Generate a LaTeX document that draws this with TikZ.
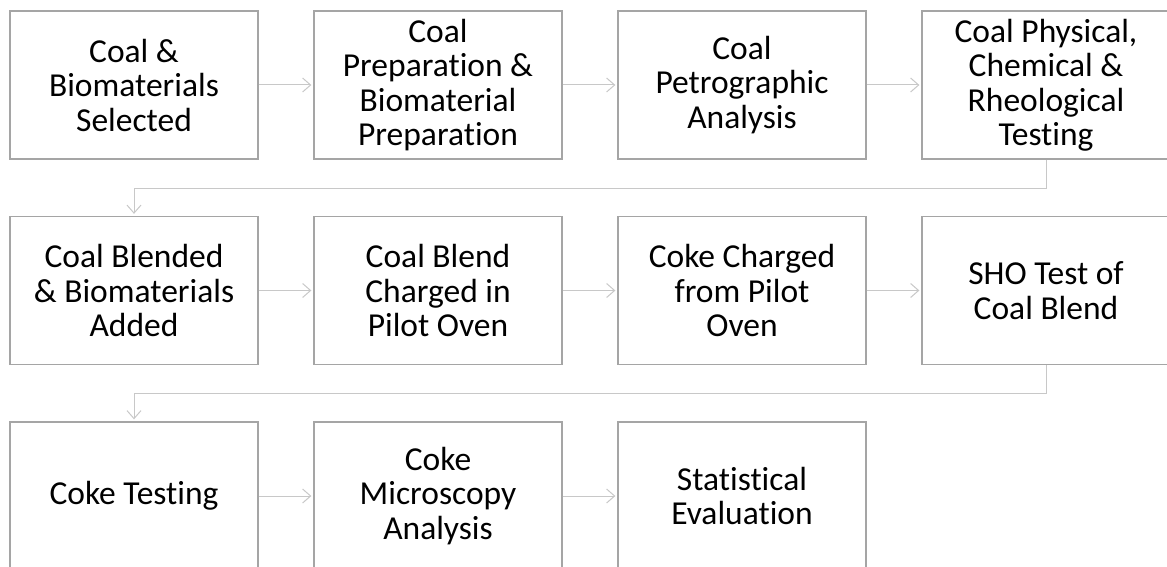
\documentclass[tikz,border=0pt]{standalone}
\usepackage{fontspec}
\setmainfont{Carlito}[Ligatures=NoCommon]
\usetikzlibrary{arrows.meta}
\definecolor{boxgray}{RGB}{165,165,165}
\definecolor{arrgray}{RGB}{200,200,200}
\tikzset{
  stepbox/.style={draw=boxgray, line width=1.3pt, fill=white, minimum width=248pt, minimum height=148pt,
    inner sep=0pt, align=center, font=\fontsize{33.5}{34.5}\selectfont},
  conn/.style={draw=arrgray, line width=1pt, -{Straight Barb[length=8pt,width=14pt]}, shorten >=2pt}
}
\begin{document}
\begin{tikzpicture}[x=1pt,y=-1pt]
\useasboundingbox (0,0) rectangle (1167,567);
\clip (0,0) rectangle (1167,567);
\fill[white] (0,0) rectangle (1167,567);
% row 1
\node[stepbox] (b1) at (134,85) {Coal \&\\Biomaterials\\Selected};
\node[stepbox] (b2) at (438,85) {Coal\\Preparation \&\\Biomaterial\\Preparation};
\node[stepbox] (b3) at (742,85) {Coal\\Petrographic\\Analysis};
\node[stepbox] (b4) at (1046,85) {Coal Physical,\\Chemical \&\\Rheological\\Testing};
% row 2
\node[stepbox] (b5) at (134,290.5) {Coal Blended\\\& Biomaterials\\Added};
\node[stepbox] (b6) at (438,290.5) {Coal Blend\\Charged in\\Pilot Oven};
\node[stepbox] (b7) at (742,290.5) {Coke Charged\\from Pilot\\Oven};
\node[stepbox] (b8) at (1046,290.5) {SHO Test of\\Coal Blend};
% row 3
\node[stepbox] (b9) at (134,496) {Coke Testing};
\node[stepbox] (b10) at (438,496) {Coke\\Microscopy\\Analysis};
\node[stepbox] (b11) at (742,496) {Statistical\\Evaluation};
% connectors
\draw[conn] (b1) -- (b2);
\draw[conn] (b2) -- (b3);
\draw[conn] (b3) -- (b4);
\draw[conn] (b4.south) -- ++(0,29) -| (b5.north);
\draw[conn] (b5) -- (b6);
\draw[conn] (b6) -- (b7);
\draw[conn] (b7) -- (b8);
\draw[conn] (b8.south) -- ++(0,28) -| (b9.north);
\draw[conn] (b9) -- (b10);
\draw[conn] (b10) -- (b11);
\end{tikzpicture}
\end{document}
